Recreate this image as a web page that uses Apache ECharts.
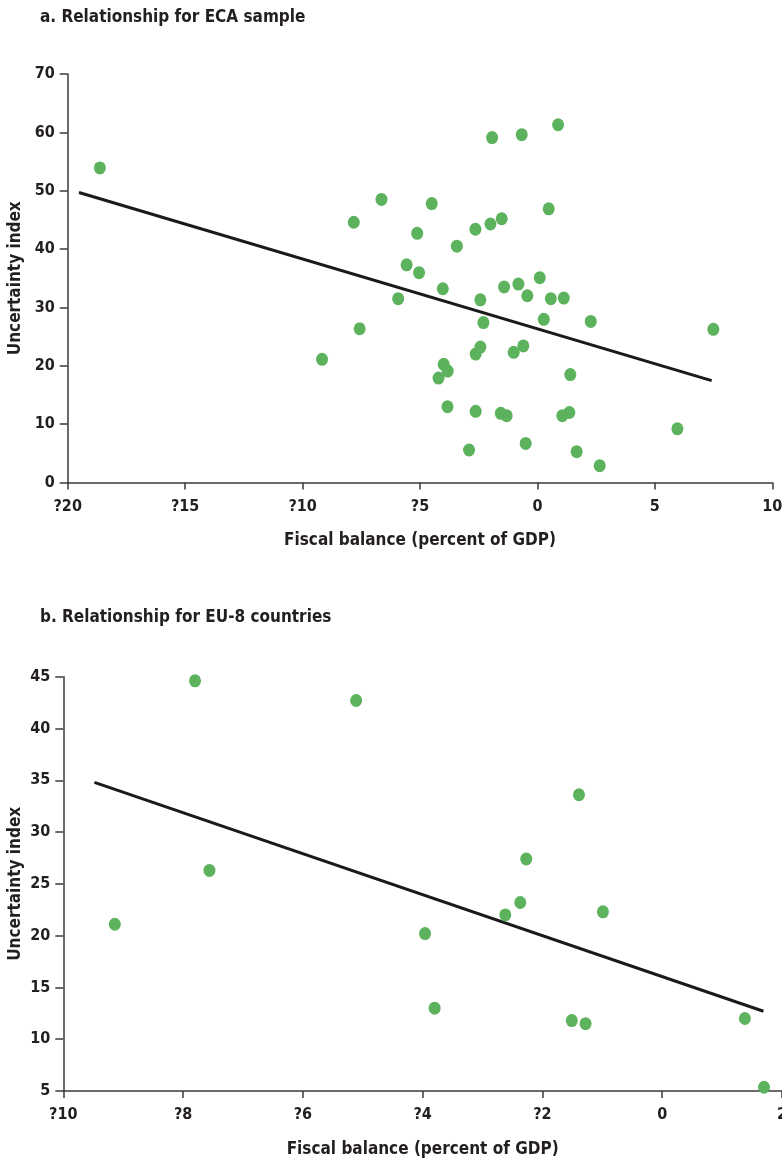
<!DOCTYPE html>
<html>
<head>
<meta charset="utf-8">
<script src="https://cdn.jsdelivr.net/npm/echarts@6/dist/echarts.min.js"></script>
<style>
html,body{margin:0;padding:0;background:#fff;}
#c{width:782px;height:1162px;}
</style>
</head>
<body>
<div id="c"></div>
<script>
// ---- Data ----
var titleA = 'a. Relationship for ECA sample';
var titleB = 'b. Relationship for EU-8 countries';
var xName = 'Fiscal balance (percent of GDP)';
var yName = 'Uncertainty index';

var xTicksA = {'-20':'?20','-15':'?15','-10':'?10','-5':'?5','0':'0','5':'5','10':'10'};
var xTicksB = {'-10':'?10','-8':'?8','-6':'?6','-4':'?4','-2':'?2','0':'0','2':'2'};

var ecaX = [-18.63,-7.82,-6.64,-4.50,-5.12,-5.57,-5.04,-5.93,-1.93,-0.67,0.88,0.48,-2.64,-2.00,-1.52,-3.43,-4.03,-2.43,-1.42,-0.81,0.10,-0.43,0.57,1.12,-7.57,-2.30,0.27,2.27,7.49,-9.17,-2.43,-2.63,-1.01,-0.60,-3.99,-3.82,-4.21,1.40,-3.83,-2.63,-1.56,-1.31,1.06,1.36,5.96,-0.50,-2.91,1.67,2.65];
var ecaY = [53.9,44.6,48.5,47.8,42.7,37.3,35.95,31.5,59.1,59.6,61.3,46.9,43.4,44.3,45.2,40.5,33.2,31.3,33.5,34.0,35.1,32.0,31.5,31.6,26.35,27.4,27.96,27.6,26.25,21.1,23.2,22.0,22.3,23.4,20.25,19.1,17.9,18.5,13.0,12.2,11.86,11.45,11.45,12.0,9.2,6.7,5.57,5.28,2.88];
var ecaFitX = [-19.52, 7.42];
var ecaFitY = [49.7, 17.45];

var eu8X = [-7.80,-5.11,-7.56,-9.14,-2.27,-2.37,-2.62,-0.99,-3.96,-3.80,-1.51,-1.28,1.38,1.70,-1.39];
var eu8Y = [44.6,42.7,26.3,21.1,27.4,23.2,22.0,22.3,20.2,13.0,11.8,11.5,12.0,5.36,33.6];
var eu8FitX = [-9.48, 1.69];
var eu8FitY = [34.8, 12.7];

function zip(a,b){return a.map(function(v,i){return [v,b[i]];});}

var FONT = "'DejaVu Sans Condensed','Liberation Sans Narrow',sans-serif";
var TXT = '#231f20';
var AX = '#3a3a3a';
var DOT = '#5db35d';

function xAxisCfg(grid, min, max, interval, labels){
  return {
    type:'value', gridIndex:grid, min:min, max:max, interval:interval,
    name:xName, nameLocation:'middle', nameGap:50, nameMoveOverlap:false,
    nameTextStyle:{fontFamily:FONT,fontWeight:'bold',fontSize:17,color:TXT},
    axisLine:{onZero:false,lineStyle:{color:AX,width:1.5}},
    axisTick:{show:true,length:7,lineStyle:{color:AX,width:1.5}},
    axisLabel:{margin:16,fontFamily:FONT,fontWeight:'bold',fontSize:16,color:TXT,hideOverlap:false,
      formatter:function(v){return labels[String(v)]!==undefined?labels[String(v)]:v;}},
    splitLine:{show:false}
  };
}
function yAxisCfg(grid, min, max, interval, gap){
  return {
    type:'value', gridIndex:grid, min:min, max:max, interval:interval,
    name:yName, nameLocation:'middle', nameGap:gap, nameRotate:90, nameMoveOverlap:false,
    nameTextStyle:{fontFamily:FONT,fontWeight:'bold',fontSize:17,color:TXT},
    axisLine:{show:true,onZero:false,lineStyle:{color:AX,width:1.5}},
    axisTick:{show:true,length:8,lineStyle:{color:AX,width:1.5}},
    axisLabel:{margin:13,fontFamily:FONT,fontWeight:'bold',fontSize:16,color:TXT},
    splitLine:{show:false}
  };
}

var chart = echarts.init(document.getElementById('c'));
chart.setOption({
  backgroundColor:'#fff',
  animation:false,
  title:[
    {text:titleA,left:35,top:4,textStyle:{fontFamily:FONT,fontWeight:'bold',fontSize:17,color:TXT}},
    {text:titleB,left:35,top:604,textStyle:{fontFamily:FONT,fontWeight:'bold',fontSize:17,color:TXT}}
  ],
  grid:[
    {left:67.7,top:74,width:704.6,height:408.5,outerBoundsMode:'none',containLabel:false},
    {left:63.3,top:676.7,width:718.7,height:414.3,outerBoundsMode:'none',containLabel:false}
  ],
  xAxis:[xAxisCfg(0,-20,10,5,xTicksA), xAxisCfg(1,-10,2,2,xTicksB)],
  yAxis:[yAxisCfg(0,0,70,10,44), yAxisCfg(1,5,45,5,39)],
  series:[
    {type:'line',xAxisIndex:0,yAxisIndex:0,data:zip(ecaFitX,ecaFitY),symbol:'none',
     lineStyle:{color:'#1a1a1a',width:3},z:2},
    {type:'scatter',xAxisIndex:0,yAxisIndex:0,data:zip(ecaX,ecaY),symbolSize:[12,13],
     itemStyle:{color:DOT,opacity:1},z:3},
    {type:'line',xAxisIndex:1,yAxisIndex:1,data:zip(eu8FitX,eu8FitY),symbol:'none',
     lineStyle:{color:'#1a1a1a',width:3},z:2},
    {type:'scatter',xAxisIndex:1,yAxisIndex:1,data:zip(eu8X,eu8Y),symbolSize:[12,13],
     itemStyle:{color:DOT,opacity:1},z:3}
  ]
});
</script>
</body>
</html>
